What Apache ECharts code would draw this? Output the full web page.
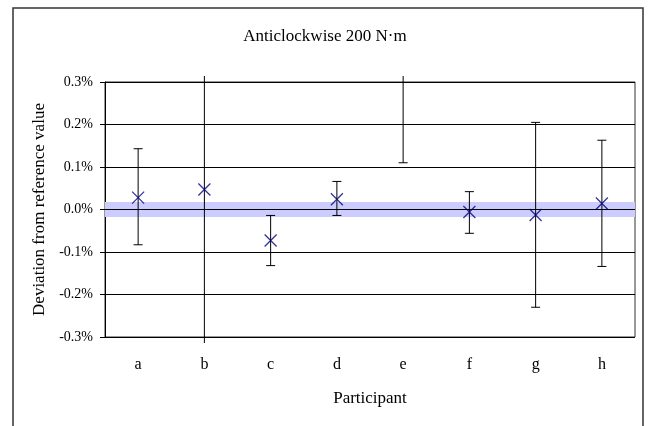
<!DOCTYPE html>
<html lang="en">

<head>
    <meta charset="UTF-8">
    <title>Anticlockwise 200 N·m</title>
    <script src="https://cdn.jsdelivr.net/npm/echarts@6/dist/echarts.min.js"></script>
</head>

<body style="margin: 0; background: #fff">
    <div id="container" style="width: 650px; height: 426px"></div>
    <script type="text/javascript">
        // values in percent
        var categories = ['a', 'b', 'c', 'd', 'e', 'f', 'g', 'h'];
        var deviation = [0.028, 0.047, -0.073, 0.024, 0.35, -0.006, -0.013, 0.014];
        var upper = [0.143, 0.6, -0.014, 0.066, 0.59, 0.042, 0.205, 0.163];
        var lower = [-0.083, -0.6, -0.132, -0.014, 0.11, -0.056, -0.23, -0.134];
        var refBand = [-0.0176, 0.0176];

        var font = 'Liberation Serif';
        var dom = document.getElementById('container');
        var myChart = echarts.init(dom, null, { renderer: 'canvas' });

        var errData = categories.map(function (c, i) { return [i, lower[i], upper[i]]; });
        var pointData = categories.map(function (c, i) { return [i, deviation[i]]; });

        function renderErr(params, api) {
            var cs = params.coordSys;
            var x = api.coord([api.value(0), 0])[0];
            var lo = api.coord([api.value(0), api.value(1)])[1];
            var hi = api.coord([api.value(0), api.value(2)])[1];
            var overTop = cs.y - 6, overBottom = cs.y + cs.height + 6;
            var capHi = hi >= cs.y, capLo = lo <= cs.y + cs.height;
            hi = Math.max(hi, overTop);
            lo = Math.min(lo, overBottom);
            var half = 4.5;
            var st = { stroke: '#000', lineWidth: 1 };
            var children = [{ type: 'line', shape: { x1: x, y1: hi, x2: x, y2: lo }, style: st }];
            if (capHi) children.push({ type: 'line', shape: { x1: x - half, y1: hi, x2: x + half, y2: hi }, style: st });
            if (capLo) children.push({ type: 'line', shape: { x1: x - half, y1: lo, x2: x + half, y2: lo }, style: st });
            return { type: 'group', children: children };
        }

        var option = {
            animation: false,
            backgroundColor: '#fff',
            title: {
                text: 'Anticlockwise 200 N·m',
                left: 'center',
                top: 23,
                textStyle: { fontFamily: font, fontSize: 17, fontWeight: 'normal', color: '#000' }
            },
            graphic: [{
                type: 'rect',
                shape: { x: 13, y: 8, width: 630, height: 440 },
                style: { fill: 'none', stroke: '#333', lineWidth: 1.5 },
                silent: true
            }],
            grid: {
                left: 105, right: 15, top: 82, bottom: 89,
                show: true, borderColor: '#333', borderWidth: 1,
                backgroundColor: 'transparent'
            },
            xAxis: {
                type: 'category',
                data: categories,
                name: 'Participant',
                nameLocation: 'middle',
                nameGap: 53,
                nameTextStyle: { fontFamily: font, fontSize: 17, color: '#000' },
                axisLine: { show: false },
                axisTick: { show: false },
                axisLabel: { fontFamily: font, fontSize: 16, color: '#000', margin: 20 }
            },
            yAxis: {
                type: 'value',
                min: -0.3, max: 0.3, interval: 0.1,
                name: 'Deviation from reference value',
                nameLocation: 'middle',
                nameGap: 56,
                nameTextStyle: { fontFamily: font, fontSize: 17, color: '#000' },
                axisLine: { show: true, lineStyle: { color: '#000' } },
                axisTick: { show: true, length: 5, lineStyle: { color: '#000' } },
                splitLine: { lineStyle: { color: '#000', width: 1 } },
                axisLabel: {
                    fontFamily: font, fontSize: 14, color: '#000', margin: 12,
                    formatter: function (v) { return v.toFixed(1) + '%'; }
                }
            },
            series: [
                {
                    name: 'band',
                    type: 'line',
                    data: [],
                    silent: true,
                    markArea: {
                        silent: true,
                        itemStyle: { color: '#ccccff' },
                        data: [[{ yAxis: refBand[0] }, { yAxis: refBand[1] }]]
                    },
                    markLine: {
                        silent: true,
                        symbol: 'none',
                        label: { show: false },
                        lineStyle: { color: '#000', width: 1, type: 'solid' },
                        data: [{ yAxis: 0 }]
                    }
                },
                {
                    name: 'uncertainty',
                    type: 'custom',
                    renderItem: renderErr,
                    data: errData,
                    clip: false,
                    z: 3
                },
                {
                    name: 'deviation',
                    type: 'scatter',
                    data: pointData,
                    symbol: 'path://M0,0L10,10M10,0L0,10',
                    symbolSize: 12,
                    clip: true,
                    itemStyle: { color: 'none', borderColor: '#000080', borderWidth: 1.3 },
                    z: 4
                }
            ]
        };

        myChart.setOption(option);
        window.addEventListener('resize', myChart.resize);
    </script>
</body>

</html>
